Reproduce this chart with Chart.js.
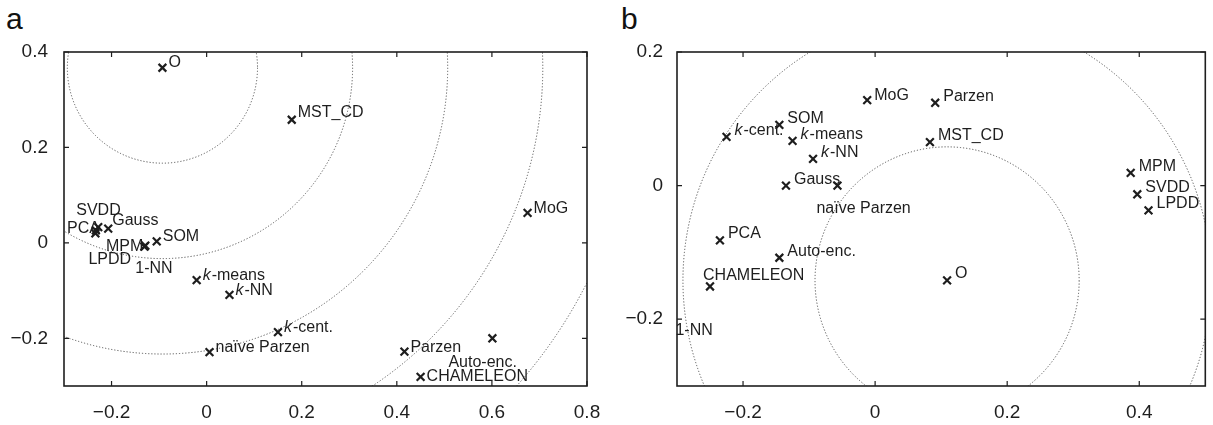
<!DOCTYPE html>
<html><head><meta charset="utf-8">
<script src="https://cdn.jsdelivr.net/npm/chart.js@4.4.1/dist/chart.umd.min.js"></script>
<style>
body{margin:0;background:#fff;width:1213px;height:425px;overflow:hidden;position:relative;font-family:"Liberation Sans",Arial,sans-serif}
canvas{position:absolute;top:0}
#ca{left:0}
#cb{left:600px}
.tag{position:absolute;font-size:30px;color:#111;line-height:1}
</style></head><body>
<div class="tag" style="left:6px;top:4px">a</div>
<div class="tag" style="left:621px;top:4px">b</div>
<canvas id="ca" width="640" height="425"></canvas>
<canvas id="cb" width="613" height="425"></canvas>
<script>
// ---- Panel a data ----
const namesA = ['O','MST_CD','MoG','SVDD','Gauss','PCA','LPDD','MPM','1-NN','SOM','k-means','k-NN','k-cent.','naïve Parzen','Parzen','Auto-enc.','CHAMELEON'];
const xA = [-0.093, 0.179, 0.675, -0.228, -0.207, -0.233, -0.234, -0.131, -0.129, -0.105, -0.021, 0.048, 0.150, 0.006, 0.416, 0.601, 0.450];
const yA = [0.367, 0.258, 0.063, 0.033, 0.030, 0.026, 0.020, -0.008, -0.006, 0.003, -0.078, -0.109, -0.187, -0.229, -0.228, -0.200, -0.281];
const xTicksA = [-0.2, 0, 0.2, 0.4, 0.6, 0.8];
const yTicksA = [-0.2, 0, 0.2, 0.4];
const circleRadiiA = [0.2, 0.4, 0.6, 0.8, 1.0];

// ---- Panel b data ----
const namesB = ['MoG','SOM','k-cent.','k-means','k-NN','Gauss','naïve Parzen','Parzen','MST_CD','MPM','SVDD','LPDD','PCA','Auto-enc.','CHAMELEON','1-NN','O'];
const xB = [-0.012, -0.145, -0.225, -0.125, -0.094, -0.135, -0.057, 0.091, 0.083, 0.387, 0.397, 0.414, -0.235, -0.145, -0.250, -0.316, 0.109];
const yB = [0.128, 0.091, 0.073, 0.067, 0.040, 0.000, 0.000, 0.124, 0.065, 0.019, -0.013, -0.037, -0.082, -0.108, -0.151, -0.223, -0.142];
const xTicksB = [-0.2, 0, 0.2, 0.4];
const yTicksB = [-0.2, 0, 0.2];
const circleRadiiB = [0.2, 0.4];

// label placement (pixel offsets from marker), style only
const placeA = {default:[6,0,'left'], 'O':[6,-1,'left'], 'MST_CD':[6,-3,'left'], 'SVDD':[-22,-12,'left'], 'Gauss':[4,-4,'left'],
  'PCA':[4,3,'right'], 'LPDD':[-7,31,'left'], 'MPM':[-1,4,'right'], '1-NN':[-10,27,'left'], 'Auto-enc.':[-44,29,'left'], 'CHAMELEON':[6,4,'left']};
const placeB = {default:[8,-2,'left'], 'MoG':[7,0,'left'], 'naïve Parzen':[-21,27,'left'], 'CHAMELEON':[-7,-6,'left'], '1-NN':[9,0,'left']};

const INK = '#1e1e1e';
const TICKFONT = {family:'"Liberation Sans", Arial, sans-serif', size:19};
const fmt = v => v === 0 ? '0' : (v < 0 ? '\u2212' : '') + Math.abs(v).toFixed(1);

function deco(names, circles, place){
  return {
    id:'deco',
    beforeDatasetsDraw(chart){
      const {ctx, chartArea:a, scales:{x, y}} = chart;
      const oi = names.indexOf('O');
      const d = chart.data.datasets[0].data[oi];
      const cx = x.getPixelForValue(d.x), cy = y.getPixelForValue(d.y);
      ctx.save();
      ctx.beginPath(); ctx.rect(a.left, a.top, a.right-a.left, a.bottom-a.top); ctx.clip();
      ctx.strokeStyle = '#555'; ctx.lineWidth = 1; ctx.setLineDash([1.2,1.9]);
      circles.forEach(r => {
        const rx = Math.abs(x.getPixelForValue(d.x + r) - cx);
        const ry = Math.abs(y.getPixelForValue(d.y + r) - cy);
        ctx.beginPath(); ctx.ellipse(cx, cy, rx, ry, 0, 0, Math.PI*2); ctx.stroke();
      });
      ctx.restore();
    },
    afterDatasetsDraw(chart){
      const ctx = chart.ctx;
      const meta = chart.getDatasetMeta(0);
      ctx.save();
      ctx.fillStyle = '#1e1e1e';
      ctx.textBaseline = 'alphabetic';
      const fN = '16px "Liberation Sans", Arial, sans-serif';
      const fI = 'italic 16px "Liberation Sans", Arial, sans-serif';
      names.forEach((n, i) => {
        const el = meta.data[i];
        const p = place[n] || place.default;
        let tx = el.x + p[0], ty = el.y + p[1];
        let parts = n.startsWith('k-') ? [['k', fI], [n.slice(1), fN]] : [[n, fN]];
        let w = 0;
        parts.forEach(([t, f]) => { ctx.font = f; w += ctx.measureText(t).width; });
        if (p[2] === 'right') tx -= w;
        ctx.textAlign = 'left';
        parts.forEach(([t, f]) => { ctx.font = f; ctx.fillText(t, tx, ty); tx += ctx.measureText(t).width + (t === 'k' ? 1 : 0); });
      });
      ctx.restore();
    },
    afterDraw(chart){
      const {ctx, chartArea:a, scales:{x, y}} = chart;
      ctx.save();
      ctx.strokeStyle = INK; ctx.lineWidth = 1.6; ctx.setLineDash([]);
      ctx.strokeRect(a.left, a.top, a.right-a.left, a.bottom-a.top);
      ctx.lineWidth = 1.2;
      const L = 5;
      ctx.beginPath();
      x.ticks.forEach(t => { const px = x.getPixelForValue(t.value);
        ctx.moveTo(px, a.bottom); ctx.lineTo(px, a.bottom - L);
        ctx.moveTo(px, a.top); ctx.lineTo(px, a.top + L); });
      y.ticks.forEach(t => { const py = y.getPixelForValue(t.value);
        ctx.moveTo(a.left, py); ctx.lineTo(a.left + L, py);
        ctx.moveTo(a.right, py); ctx.lineTo(a.right - L, py); });
      ctx.stroke();
      ctx.restore();
    }
  };
}

function makeChart(id, names, xs, ys, xr, yr, xt, yt, circles, place, yW, yPad, padRight){
  const pts = xs.map((v, i) => ({x:v, y:ys[i]}));
  return new Chart(document.getElementById(id), {
    type:'scatter',
    data:{datasets:[{data:pts, pointStyle:'crossRot', pointRadius:5.5, pointHoverRadius:5.5,
      borderColor:INK, backgroundColor:INK, pointBorderWidth:2.2, clip:0}]},
    options:{
      responsive:false, animation:false, events:[],
      layout:{padding:{left:0, top:52, right:padRight, bottom:0}},
      plugins:{legend:{display:false}, tooltip:{enabled:false}},
      scales:{
        x:{type:'linear', min:xr[0], max:xr[1],
          afterBuildTicks:s => { s.ticks = xt.map(v => ({value:v})); },
          afterFit:s => { s.height = 39; s.paddingLeft = 0; s.paddingRight = 0; },
          grid:{display:false, drawTicks:false}, border:{display:false},
          ticks:{padding:15, font:TICKFONT, color:INK, callback:fmt, autoSkip:false, maxRotation:0}},
        y:{type:'linear', min:yr[0], max:yr[1],
          afterBuildTicks:s => { s.ticks = yt.map(v => ({value:v})); },
          afterFit:s => { s.width = yW; s.paddingTop = 0; s.paddingBottom = 0; },
          grid:{display:false, drawTicks:false}, border:{display:false},
          ticks:{padding:yPad, font:TICKFONT, color:INK, callback:fmt, autoSkip:false}}
      }
    },
    plugins:[deco(names, circles, place)]
  });
}

makeChart('ca', namesA, xA, yA, [-0.3, 0.8], [-0.3, 0.4], xTicksA, yTicksA, circleRadiiA, placeA, 64, 16, 53);
makeChart('cb', namesB, xB, yB, [-0.3, 0.5], [-0.3, 0.2], xTicksB, yTicksB, circleRadiiB, placeB, 77, 14, 2);
</script>
</body></html>
